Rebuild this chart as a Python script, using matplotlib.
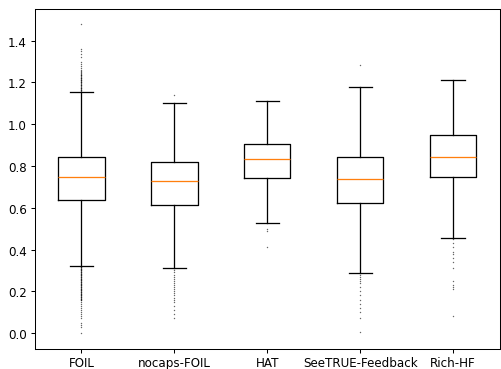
import matplotlib
matplotlib.use('Agg')
import matplotlib.pyplot as plt

# dataset names
labels = ['FOIL', 'nocaps-FOIL', 'HAT', 'SeeTRUE-Feedback', 'Rich-HF']

# box statistics
q1 = [0.635, 0.614, 0.744, 0.621, 0.748]
med = [0.746, 0.730, 0.833, 0.740, 0.844]
q3 = [0.841, 0.819, 0.906, 0.844, 0.948]
whislo = [0.322, 0.310, 0.525, 0.286, 0.457]
whishi = [1.156, 1.100, 1.110, 1.178, 1.213]

# outliers (approximate)
fliers_foil = [1.16, 1.163, 1.166, 1.17, 1.173, 1.176, 1.18, 1.183, 1.186, 1.19,
               1.193, 1.196, 1.20, 1.203, 1.206, 1.21, 1.213, 1.216, 1.22, 1.223,
               1.226, 1.23, 1.234, 1.238, 1.242, 1.246, 1.25, 1.255, 1.26,
               1.27, 1.28, 1.29, 1.30, 1.32, 1.335, 1.35, 1.36, 1.478,
               0.318, 0.315, 0.312, 0.309, 0.306, 0.303, 0.30, 0.297, 0.294, 0.291,
               0.288, 0.285, 0.282, 0.279, 0.276, 0.273, 0.27, 0.267, 0.264, 0.261,
               0.258, 0.255, 0.252, 0.249, 0.246, 0.243, 0.24, 0.237, 0.234, 0.231,
               0.228, 0.225, 0.222, 0.219, 0.216, 0.213, 0.21, 0.207, 0.204, 0.201,
               0.198, 0.195, 0.192, 0.189, 0.186, 0.183, 0.18, 0.177, 0.174, 0.171,
               0.168, 0.165, 0.162, 0.159, 0.156, 0.15, 0.14, 0.13, 0.12, 0.11,
               0.10, 0.09, 0.08, 0.07, 0.05, 0.04, 0.03, 0.0]
fliers_nocaps = [1.14, 0.30, 0.29, 0.28, 0.27, 0.26, 0.25, 0.24, 0.23, 0.22,
                 0.21, 0.20, 0.19, 0.18, 0.17, 0.16, 0.15, 0.13, 0.11, 0.09, 0.07]
fliers_hat = [0.50, 0.49, 0.41]
fliers_seetrue = [1.283, 0.28, 0.27, 0.26, 0.25, 0.24, 0.22, 0.20, 0.18, 0.16,
                  0.14, 0.12, 0.10, 0.07, 0.003]
fliers_rich = [0.45, 0.43, 0.41, 0.39, 0.38, 0.36, 0.34, 0.31, 0.25, 0.23,
               0.22, 0.21, 0.081]
fliers = [fliers_foil, fliers_nocaps, fliers_hat, fliers_seetrue, fliers_rich]

stats = []
for i in range(len(labels)):
    stats.append({'label': labels[i], 'q1': q1[i], 'med': med[i], 'q3': q3[i],
                  'whislo': whislo[i], 'whishi': whishi[i], 'fliers': fliers[i]})

DPI = 92
plt.rcParams['font.size'] = 9.3
plt.rcParams['xtick.major.pad'] = 2.5
plt.rcParams['xtick.major.size'] = 3.0
plt.rcParams['ytick.major.size'] = 3.0

fig = plt.figure(figsize=(501 / DPI, 370 / DPI), dpi=DPI)
ax = fig.add_axes([35 / 501, 1 - 349.5 / 370, 464.5 / 501, 339.5 / 370])
ax.bxp(stats, flierprops=dict(marker='o', markersize=0.6, markeredgewidth=0.5,
                              markeredgecolor='black', alpha=0.6))
ax.set_ylim(-0.074, 1.552)
ax.set_yticks([0.0, 0.2, 0.4, 0.6, 0.8, 1.0, 1.2, 1.4])

fig.savefig('out.png', dpi=DPI)
